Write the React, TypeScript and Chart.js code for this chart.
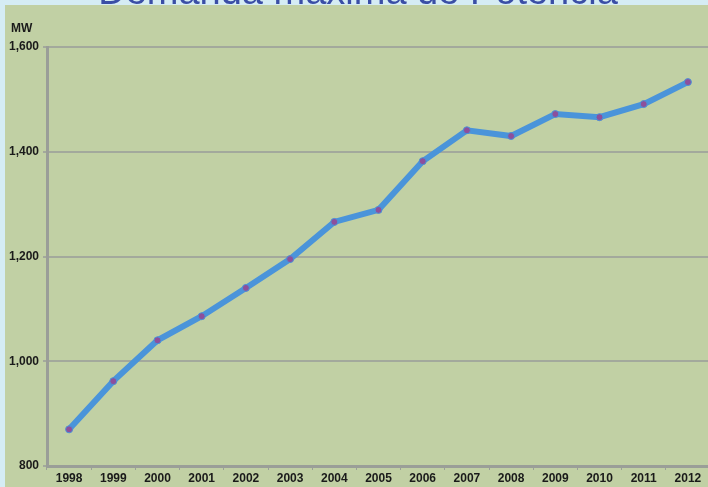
import React, { useEffect, useRef } from "react";
import { Chart, registerables } from "chart.js";

Chart.register(...registerables);

const years = ["1998","1999","2000","2001","2002","2003","2004","2005","2006","2007","2008","2009","2010","2011","2012"];
const demandMW = [870, 962, 1040, 1086, 1140, 1195, 1266, 1289, 1382, 1441, 1430, 1472, 1466, 1491, 1533];
const yMin = 800;
const yMax = 1600;
const yStep = 200;
const titleText = "Demanda máxima de Potencia";
const unitLabel = "MW";

const FONT = "'Liberation Sans Narrow', 'Arial Narrow', 'Liberation Sans', Arial, sans-serif";

export default function App() {
  const ref = useRef<HTMLCanvasElement | null>(null);
  useEffect(() => {
    document.body.style.margin = "0";
    const canvas = ref.current!;
    const bgPlugin = {
      id: "bg",
      beforeDraw(chart: any) {
        const ctx = chart.ctx;
        ctx.save();
        ctx.fillStyle = "#d5ecf4";
        ctx.fillRect(0, 0, chart.width, chart.height);
        ctx.fillStyle = "#3a4ea6";
        ctx.font = "38px 'Liberation Sans', Arial, sans-serif";
        ctx.textAlign = "center";
        ctx.textBaseline = "alphabetic";
        ctx.fillText(titleText, 358, 4);
        ctx.fillStyle = "#c1d0a4";
        ctx.fillRect(5, 5, chart.width, chart.height);
        ctx.fillStyle = "#1a1a1a";
        ctx.font = "bold 12px " + FONT;
        ctx.textAlign = "left";
        ctx.textBaseline = "middle";
        ctx.fillText(unitLabel, 11, 29);
        ctx.restore();
      },
    };
    const chart = new Chart(canvas, {
      type: "line",
      data: {
        labels: years,
        datasets: [
          {
            data: demandMW,
            borderColor: "#4a94da",
            borderWidth: 6,
            pointRadius: 3.5,
            pointBackgroundColor: "#8d4f9c",
            pointBorderColor: "#4a94da",
            pointBorderWidth: 1,
            tension: 0,
          },
        ],
      },
      options: {
        animation: false,
        responsive: false,
        maintainAspectRatio: false,
        layout: { padding: { top: 47, left: 0, right: 6, bottom: 0 } },
        plugins: { legend: { display: false }, tooltip: { enabled: false } },
        scales: {
          x: {
            type: "category",
            offset: true,
            afterFit(scale: any) { scale.height = 21; },
            grid: { drawOnChartArea: false, drawTicks: true, tickLength: 4, offset: true, color: "#9a9e98" },
            border: { display: true, color: "#9a9e98", width: 3 },
            ticks: {
              color: "#1a1a1a",
              font: { family: FONT, size: 12, weight: "bold" },
              padding: 1,
              maxRotation: 0,
            },
          },
          y: {
            min: yMin,
            max: yMax,
            afterFit(scale: any) { scale.width = 47; },
            ticks: {
              stepSize: yStep,
              color: "#1a1a1a",
              font: { family: FONT, size: 12, weight: "bold" },
              padding: 4,
              callback: (v: any) => Number(v).toLocaleString("en-US"),
            },
            grid: { color: "#a3a99c", lineWidth: 2, tickLength: 4, drawTicks: true },
            border: { display: true, color: "#9a9e98", width: 3 },
          },
        },
      },
      plugins: [bgPlugin],
    } as any);
    return () => chart.destroy();
  }, []);
  return (
    <div style={{ position: "fixed", left: 0, top: 0, width: 708, height: 487, overflow: "hidden" }}>
      <canvas ref={ref} width={716} height={487} style={{ width: 716, height: 487, display: "block" }} />
    </div>
  );
}
